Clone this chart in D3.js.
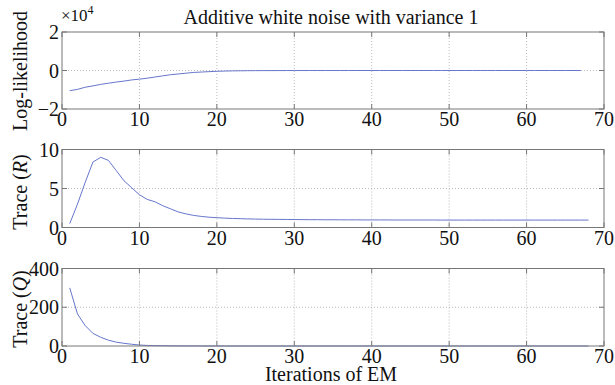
<!DOCTYPE html>
<html><head><meta charset="utf-8">
<script src="https://cdn.jsdelivr.net/npm/d3@7"></script>
</head><body style="margin:0"><svg id="c" width="615" height="385" style="display:block"></svg>
<script>
const title = "Additive white noise with variance 1";
const xLabel = "Iterations of EM";
const xTicks = [0,10,20,30,40,50,60,70];

// Log-likelihood (units of 1e4), iterations 1..67
const llIter = d3.range(1, 68);
const llVals = [-1.05,-0.98,-0.87,-0.80,-0.72,-0.66,-0.60,-0.55,-0.49,-0.45,-0.40,-0.34,-0.28,-0.22,-0.18,-0.14,-0.10,-0.08,-0.06,-0.04,-0.03,-0.02,-0.015,-0.01,-0.008,-0.006,-0.005,-0.004,-0.003,-0.002,
 -0.002,-0.001,-0.001,-0.001,-0.001,-0.001,0,0,0,0,0,0,0,0,0,0,0,0,0,0,0,0,0,0,0,0,0,0,0,0,0,0,0,0,0,0,0];
const llTicks = [-2,0,2];

// Trace(R), iterations 1..68
const rIter = d3.range(1, 69);
const rVals = [0.5,3.0,5.8,8.4,9.0,8.6,7.3,6.0,5.1,4.2,3.6,3.3,2.8,2.4,2.0,1.75,1.55,1.42,1.32,1.26,1.2,1.16,1.13,1.1,1.08,1.06,1.05,1.04,1.03,1.02,
 1.01,1.0,1.0,0.99,0.99,0.98,0.98,0.98,0.97,0.97,0.97,0.97,0.96,0.96,0.96,0.96,0.96,0.96,0.95,0.95,0.95,0.95,0.95,0.95,0.95,0.95,0.95,0.95,0.95,0.95,0.95,0.95,0.95,0.95,0.95,0.95,0.95,0.95];
const rTicks = [0,5,10];

// Trace(Q), iterations 1..68
const qIter = d3.range(1, 69);
const qVals = [300,165,105,65,45,30,20,14,9,5,3,2,1.5,1,0.7,0.5,0.3,0.2,0.1,0.1,0,0,0,0,0,0,0,0,0,0,
 0,0,0,0,0,0,0,0,0,0,0,0,0,0,0,0,0,0,0,0,0,0,0,0,0,0,0,0,0,0,0,0,0,0,0,0,0,0];
const qTicks = [0,200,400];

const svg = d3.select("#c");
const x = d3.scaleLinear().domain([0,70]).range([62,604]);
const lineColor = "#6676cc";
const FS = 20;
const FF = "Liberation Serif";
const TXT = "#111";
function txt(sel){ return sel.append("text").attr("font-family",FF).attr("fill",TXT); }

const panels = [
  {iter: llIter, vals: llVals, dom: [-2,2], top: 32, bot: 109, ticks: llTicks, tfmt: d => d===0?"0":(d<0?"\u2212"+Math.abs(d):d)},
  {iter: rIter, vals: rVals, dom: [0,10], top: 149.5, bot: 227.5, ticks: rTicks, tfmt: d => d},
  {iter: qIter, vals: qVals, dom: [0,400], top: 268.5, bot: 346, ticks: qTicks, tfmt: d => d},
];

panels.forEach((p, i) => {
  const y = d3.scaleLinear().domain(p.dom).range([p.bot, p.top]);
  const g = svg.append("g");
  g.selectAll(".gx").data(xTicks.slice(1,-1)).join("line")
    .attr("x1", d=>x(d)).attr("x2", d=>x(d)).attr("y1", p.top).attr("y2", p.bot)
    .attr("stroke","#aaa").attr("stroke-width",0.8).attr("stroke-dasharray","1,2");
  g.selectAll(".gy").data(p.ticks.slice(1,-1)).join("line")
    .attr("x1", x(0)).attr("x2", x(70)).attr("y1", d=>y(d)).attr("y2", d=>y(d))
    .attr("stroke","#aaa").attr("stroke-width",0.8).attr("stroke-dasharray","1,2");
  g.append("path").datum(p.iter.map((it,k)=>[it,p.vals[k]]))
    .attr("fill","none").attr("stroke",lineColor).attr("stroke-width",1)
    .attr("d", d3.line().x(d=>x(d[0])).y(d=>y(d[1])));
  g.append("rect").attr("x", x(0)).attr("y", p.top).attr("width", x(70)-x(0)).attr("height", p.bot-p.top)
    .attr("fill","none").attr("stroke","#777").attr("stroke-width",1);
  const tl = 5;
  xTicks.forEach(t => {
    g.append("line").attr("x1",x(t)).attr("x2",x(t)).attr("y1",p.bot).attr("y2",p.bot-tl).attr("stroke","#777");
    g.append("line").attr("x1",x(t)).attr("x2",x(t)).attr("y1",p.top).attr("y2",p.top+tl).attr("stroke","#777");
  });
  p.ticks.forEach(t => {
    g.append("line").attr("x1",x(0)).attr("x2",x(0)+tl).attr("y1",y(t)).attr("y2",y(t)).attr("stroke","#777");
    g.append("line").attr("x1",x(70)).attr("x2",x(70)-tl).attr("y1",y(t)).attr("y2",y(t)).attr("stroke","#777");
  });
  xTicks.forEach(t => {
    txt(g).attr("x", x(t)).attr("y", p.bot+17).attr("text-anchor","middle").attr("font-size",FS).text(t);
  });
  p.ticks.forEach(t => {
    txt(g).attr("x", x(0)-3).attr("y", y(t)+7).attr("text-anchor","end").attr("font-size",FS).text(p.tfmt(t));
  });
});

const ex = txt(svg).attr("x", 61).attr("y", 21).attr("font-size",17);
ex.append("tspan").text("\u00d710");
ex.append("tspan").attr("dy",-7).attr("font-size",12).text("4");

txt(svg).attr("x",331).attr("y",24).attr("text-anchor","middle").attr("font-size",FS).text(title);
txt(svg).attr("x",331).attr("y",381).attr("text-anchor","middle").attr("font-size",FS).text(xLabel);

function ylab(cy, parts){
  const t = txt(svg).attr("transform",`translate(27,${cy}) rotate(-90)`).attr("text-anchor","middle").attr("font-size",FS);
  parts.forEach(([s,it]) => { const ts = t.append("tspan").text(s); if(it) ts.attr("font-style","italic"); });
}
ylab(71, [["Log-likelihood",false]]);
ylab(192, [["Trace (",false],["R",true],[")",false]]);
ylab(309, [["Trace (",false],["Q",true],[")",false]]);
</script></body></html>
